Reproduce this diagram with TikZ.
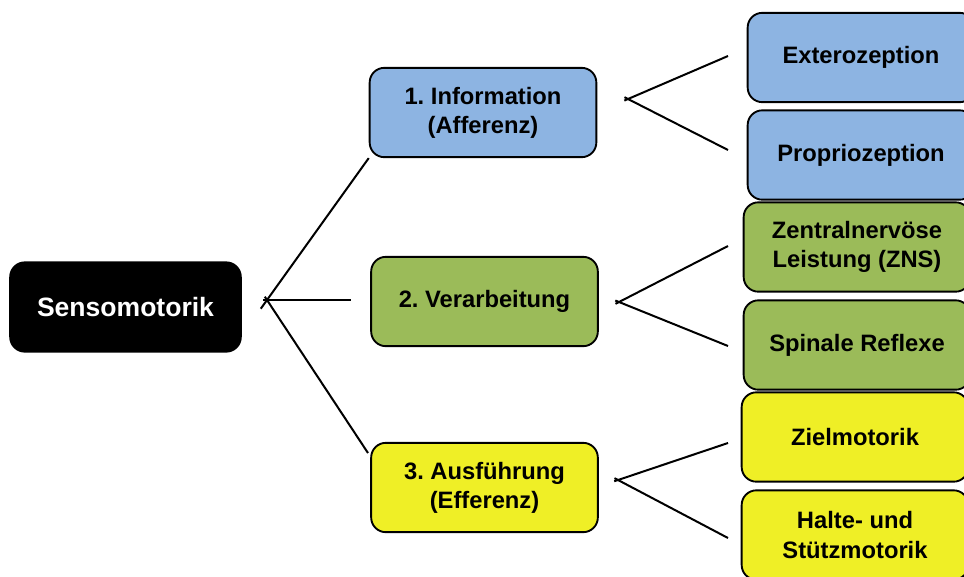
\documentclass[tikz,border=0pt]{standalone}
\usepackage{fontspec}
\setmainfont{Liberation Sans}
\definecolor{infoblue}{HTML}{8DB4E2}
\definecolor{verarbgreen}{HTML}{9BBB59}
\definecolor{ausfyellow}{HTML}{EFEF26}
\frenchspacing
\begin{document}
\begin{tikzpicture}[x=0.75pt,y=-0.75pt,
  box/.style={draw=black,line width=1.4pt,rounded corners=11pt,
    minimum width=170pt,minimum height=67pt,align=center,
    font=\bfseries\fontsize{17.8}{21.8}\selectfont},
  link/.style={line width=1.5pt,shorten <=-3pt}]
\useasboundingbox (0,0) rectangle (964,576);
\node[box,fill=black,text=white,minimum width=173pt,
  font=\bfseries\fontsize{19.9}{23}\selectfont] (senso) at (125.5,307) {Sensomotorik};
\node[box,fill=infoblue] (info) at (483,112.5) {1. Information\\(Afferenz)};
\node[box,fill=verarbgreen] (verarb) at (484.5,301.5) {2. Verarbeitung};
\node[box,fill=ausfyellow] (ausf) at (484.5,487.5) {3. Ausführung\\(Efferenz)};
\node[box,fill=infoblue] (extero) at (861,57.5) {Exterozeption};
\node[box,fill=infoblue] (proprio) at (861,155) {Propriozeption};
\node[box,fill=verarbgreen] (zns) at (857,247) {Zentralnervöse\\Leistung (ZNS)};
\node[box,fill=verarbgreen] (reflex) at (857,345) {Spinale Reflexe};
\node[box,fill=ausfyellow] (ziel) at (855,437) {Zielmotorik};
\node[box,fill=ausfyellow] (halte) at (855,535) {Halte- und\\Stützmotorik};
\coordinate (fork) at (267,300);
\coordinate (verarbend) at (351,300);
\coordinate (ausfend) at (368,453);
\draw[link,shorten <=-8pt] (fork) -- (info.south west);
\draw[link] (fork) -- (verarbend);
\draw[link] (fork) -- (ausfend);
\coordinate (infofork) at (628,99);
\coordinate (exteroend) at (728,56);
\coordinate (proprioend) at (728,150);
\coordinate (verarbfork) at (619,302);
\coordinate (znsend) at (728,246);
\coordinate (reflexend) at (728,346);
\coordinate (ausffork) at (618,480);
\coordinate (zielend) at (728,443);
\coordinate (halteend) at (728,538);
\foreach \f/\a/\b in {infofork/exteroend/proprioend,verarbfork/znsend/reflexend,ausffork/zielend/halteend}{
  \draw[link] (\f) -- (\a);
  \draw[link] (\f) -- (\b);
}
\end{tikzpicture}
\end{document}
